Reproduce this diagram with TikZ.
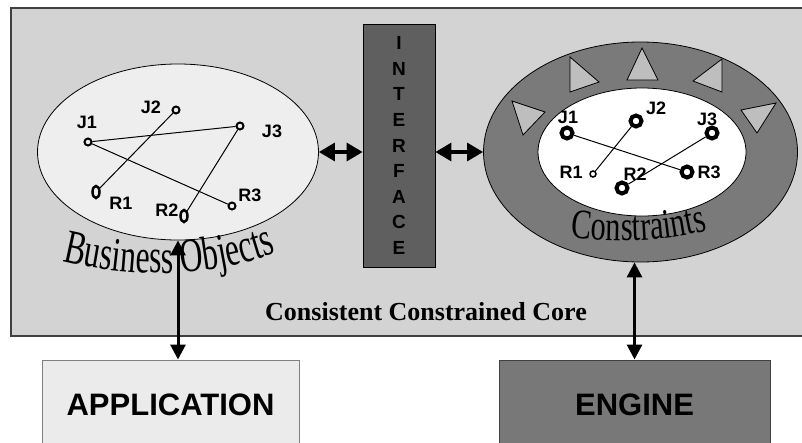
\documentclass[tikz,border=0pt]{standalone}
\usepackage{fontspec}
\setmainfont{Liberation Serif}
\setsansfont{Liberation Sans}
\newfontfamily\wordartA[FakeStretch=0.66]{Liberation Serif}
\newfontfamily\wordartB[FakeStretch=0.72]{Liberation Serif}
\usepackage{xcolor}
\usetikzlibrary{shapes.geometric,arrows.meta,positioning,decorations.text}

\definecolor{coregray}{HTML}{D3D3D3}
\definecolor{coreedge}{HTML}{404040}
\definecolor{ifacegray}{HTML}{5F5F5F}
\definecolor{bogray}{HTML}{EEEEEE}
\definecolor{csgray}{HTML}{7A7A7A}
\definecolor{trigray}{HTML}{BEBEBE}
\definecolor{appgray}{HTML}{EBEBEB}
\definecolor{enggray}{HTML}{787878}

\begin{document}
\begin{tikzpicture}[x=1pt, y=-1pt,
    ring/.style={circle, draw, line width=2pt, inner sep=0pt, minimum size=7pt},
    ringtall/.style={ellipse, draw, line width=2.5pt, inner sep=0pt, minimum width=7pt, minimum height=12pt},
    bigring/.style={circle, draw, line width=4pt, inner sep=0pt, minimum size=11pt},
    smallring/.style={circle, draw, line width=1.5pt, inner sep=0pt, minimum size=6pt},
    lbl/.style={font=\sffamily\bfseries\fontsize{18}{18}\selectfont, inner sep=0pt},
    link/.style={line width=1pt},
    dbl/.style={{Triangle[length=16pt,width=18pt]}-{Triangle[length=16pt,width=18pt]}, line width=3.2pt},
    vdbl/.style={{Triangle[length=15pt,width=15pt]}-{Triangle[length=15pt,width=15pt]}, line width=3pt},
    tri/.style={draw, line width=0.8pt, fill=trigray}
]
    \useasboundingbox (0,0) rectangle (802,442);
    \clip (0,0) rectangle (802,442);

    % Core
    \draw[line width=2pt, draw=coreedge, fill=coregray] (11,8) rectangle (830,336);
    \node[font=\bfseries\fontsize{26}{26}\selectfont, anchor=base] (corelbl) at (426,320) {Consistent Constrained Core};

    % Interface
    \node[draw, line width=0.8pt, fill=ifacegray, minimum width=72pt, minimum height=243pt, inner sep=0pt,
        align=center, font=\sffamily\bfseries\fontsize{19}{25.6}\selectfont] (iface) at (399,145.5)
        {I\\N\\T\\E\\R\\F\\A\\C\\E};

    % Business objects
    \node[ellipse, draw, line width=0.8pt, fill=bogray, minimum width=281pt, minimum height=176pt] (bo) at (178,152) {};
    \node[ring] (bj1) at (88,142) {};
    \node[ring] (bj2) at (176,110) {};
    \node[ring] (bj3) at (240,126) {};
    \node[ringtall] (br1) at (96,192) {};
    \node[ringtall] (br2) at (184,216) {};
    \node[ring] (br3) at (232,206) {};
    \node[lbl] (bj1l) at (87,122) {J1};
    \node[lbl] (bj2l) at (151,107) {J2};
    \node[lbl] (bj3l) at (272,131) {J3};
    \node[lbl] (br1l) at (121,203) {R1};
    \node[lbl] (br2l) at (167,210) {R2};
    \node[lbl] (br3l) at (250,195) {R3};
    \draw[link] (bj1) -- (bj3);
    \draw[link] (bj1) -- (br3);
    \draw[link] (bj2) -- (br1);
    \draw[link] (bj3) -- (br2);
    \path[decorate, decoration={text along path, text align=center,
        text={|\wordartA\fontsize{48}{48}\selectfont|Business Objects}}]
        (54,259) .. controls (130,279) and (210,279) .. (284,250);

    % Constraints
    \node[ellipse, draw, line width=0.8pt, fill=csgray, minimum width=314pt, minimum height=220pt] (cs) at (640.5,152) {};
    \filldraw[tri] (512,101) -- (545,112) -- (523,135) -- cycle;
    \filldraw[tri] (570,57) -- (599,82) -- (570,92) -- cycle;
    \filldraw[tri] (642,48) -- (658,80) -- (627,80) -- cycle;
    \filldraw[tri] (722,59) -- (693,81) -- (722,92) -- cycle;
    \filldraw[tri] (741,110) -- (776,103) -- (757,133) -- cycle;
    \node[ellipse, draw, line width=0.8pt, fill=white, minimum width=208pt, minimum height=128pt] (csin) at (642,152) {};
    \node[bigring] (cj1) at (567,133) {};
    \node[bigring] (cj2) at (636,121) {};
    \node[bigring] (cj3) at (712,133) {};
    \node[smallring] (cr1) at (593,174) {};
    \node[bigring] (cr2) at (622,188) {};
    \node[bigring] (cr3) at (687,172) {};
    \node[lbl] (cj1l) at (568,117) {J1};
    \node[lbl] (cj2l) at (656,108) {J2};
    \node[lbl] (cj3l) at (707,119) {J3};
    \node[lbl] (cr1l) at (571,172) {R1};
    \node[lbl] (cr2l) at (635,174) {R2};
    \node[lbl] (cr3l) at (709,172) {R3};
    \draw[link] (cj1) -- (cr3);
    \draw[link] (cj2) -- (cr1);
    \draw[link] (cj3) -- (cr2);
    \path[decorate, decoration={text along path, text align=center,
        text={|\wordartB\fontsize{42}{42}\selectfont|Constraints}}]
        (566,237) .. controls (610,243) and (665,243) .. (712,229);

    % Application and engine
    \node[draw=gray, line width=1pt, fill=appgray, minimum width=257pt, minimum height=90pt,
        font=\sffamily\bfseries\fontsize{31}{31}\selectfont] (app) at (170.5,405) {APPLICATION};
    \node[draw=coreedge, line width=1pt, fill=enggray, minimum width=271pt, minimum height=90pt,
        font=\sffamily\bfseries\fontsize{31}{31}\selectfont] (eng) at (634.5,405) {ENGINE};

    % Links
    \draw[dbl] (bo.east) -- (bo.east -| iface.west);
    \draw[dbl] (cs.west -| iface.east) -- (cs.west);
    \draw[vdbl] (bo.south) -- (bo.south |- app.north);
    \draw[vdbl] (eng.north |- cs.south) -- (eng.north);
\end{tikzpicture}
\end{document}
